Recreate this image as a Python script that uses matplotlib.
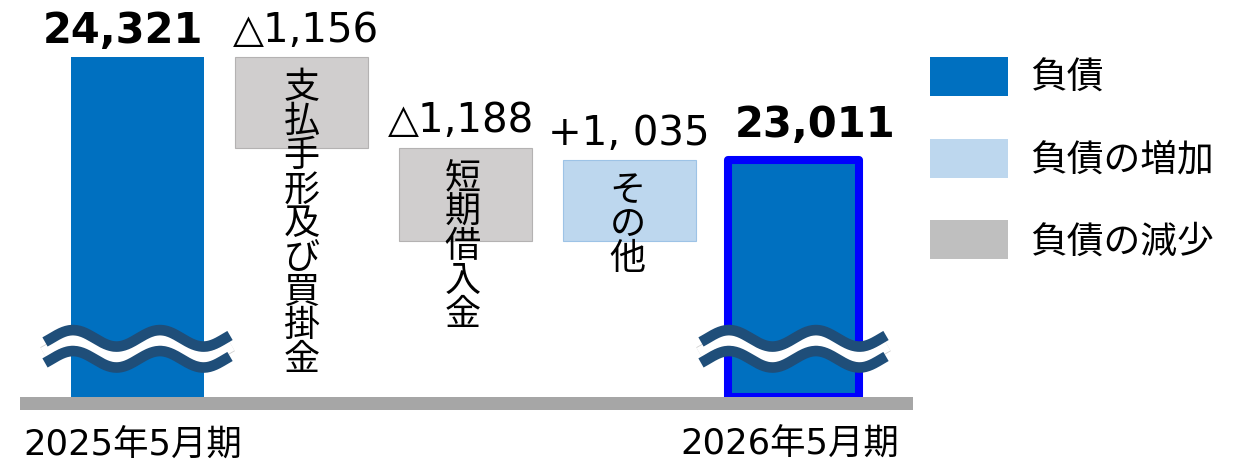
import numpy as np
import matplotlib
matplotlib.use("Agg")
import matplotlib.pyplot as plt
from matplotlib.patches import Patch

CJK = ["Noto Sans CJK JP", "DejaVu Sans"]
NUM = ["DejaVu Sans", "Noto Sans CJK JP"]

# 負債の増減（百万円）
period_labels = ["2025年5月期", "2026年5月期"]
start_value = 24321
end_value = 23011
change_names = ["支払手形及び買掛金", "短期借入金", "その他"]
change_values = [-1156, -1188, 1035]
change_labels = ["△1,156", "△1,188", "+1, 035"]
axis_floor = 20000

legend_labels = ["負債", "負債の増加", "負債の減少"]

BLUE = "#0070C0"
UP = "#BDD7EE"
DOWN = "#D0CECE"
WAVE = "#1F4E79"


def pt(px):
    return px * 72 / 100


fig = plt.figure(figsize=(12.5, 4.65), dpi=100)
ax = fig.add_axes([20 / 1250, 54 / 465, 893 / 1250, 411 / 465])
ax.set_xlim(-0.7165, 4.7287)
ax.set_ylim(19820, 25050)
ax.axis("off")

width = 0.81

# 期首・期末
ax.bar(0, start_value - axis_floor, bottom=axis_floor, width=width,
       color=BLUE, zorder=2)
ax.bar(4, end_value - axis_floor, bottom=axis_floor, width=0.8,
       color=BLUE, edgecolor="#0000FF", linewidth=5.8, joinstyle="round",
       zorder=2)

# 増減
level = start_value
tops = []
for i, v in enumerate(change_values):
    lo = min(level, level + v)
    ax.bar(i + 1, abs(v), bottom=lo, width=width,
           color=UP if v > 0 else DOWN,
           edgecolor="#9DC3E6" if v > 0 else "#B4B2B2", linewidth=0.8,
           zorder=2)
    tops.append(lo + abs(v))
    level += v

# 基準線
ax.axhspan(19835, axis_floor, color="#A6A6A6", zorder=3, lw=0)


# 省略記号（波線）
def draw_break(xc):
    t = np.linspace(-0.564, 0.564, 200)
    period = 0.53
    amp = 8.25 / 0.07859
    yc = 20745
    wave = amp * np.cos(2 * np.pi * (t + 0.393) / period)
    step = 10.5 / 0.07859
    ax.plot(xc + t * 1.02, yc - step + wave, color="#D0D0D0", lw=8.6,
            solid_capstyle="butt", zorder=4)
    ax.plot(xc + t * 1.02, yc - step + wave, color="white", lw=7.4,
            solid_capstyle="butt", zorder=4)
    ax.plot(xc + t, yc + wave, color=WAVE, lw=7.6,
            solid_capstyle="butt", zorder=5)
    ax.plot(xc + t, yc - 2 * step + wave, color=WAVE, lw=7.6,
            solid_capstyle="butt", zorder=5)


draw_break(0)
draw_break(4)

# 数値ラベル
ax.annotate(f"{start_value:,}", xy=(0, start_value), xytext=(pt(-15), pt(14)),
            textcoords="offset points", ha="center", va="baseline",
            fontsize=30, fontweight="bold", family=NUM)
ax.annotate(f"{end_value:,}", xy=(4, end_value), xytext=(pt(22), pt(23)),
            textcoords="offset points", ha="center", va="baseline",
            fontsize=30, fontweight="bold", family=NUM)

label_dx = [4, -4, -1]
label_dy = [15, 16, 15]
name_dx = [0, -3, -2]
for i, (lab, top) in enumerate(zip(change_labels, tops)):
    ax.annotate(lab, xy=(i + 1, top), xytext=(pt(label_dx[i]), pt(label_dy[i])),
                textcoords="offset points", ha="center", va="baseline",
                fontsize=29, family=NUM)
    # 縦書きの項目名
    for k, ch in enumerate(change_names[i]):
        ax.annotate(ch, xy=(i + 1, top),
                    xytext=(pt(name_dx[i]), -pt(31 + 34 * k)),
                    textcoords="offset points", ha="center", va="center",
                    fontsize=26, family=CJK)

# 期ラベル
for x, lab, dx, dy in [(0, period_labels[0], -5, -59), (4, period_labels[1], -4, -58)]:
    ax.annotate(lab, xy=(x, axis_floor), xytext=(pt(dx), pt(dy)),
                textcoords="offset points", ha="center", va="baseline",
                fontsize=25.5, family=NUM)

# 凡例
fs = 26.5
em = fs * 100 / 72
handles = [Patch(facecolor=BLUE), Patch(facecolor=UP), Patch(facecolor="#BFBFBF")]
fig.legend(handles, legend_labels, loc="upper left",
           bbox_to_anchor=(930 / 1250, 1 - 57 / 465),
           frameon=False, prop=dict(family=CJK, size=fs),
           handlelength=78 / em, handleheight=46 / em,
           handletextpad=22 / em, labelspacing=1.11,
           borderpad=0, borderaxespad=0)

fig.savefig("out.png", dpi=100)
